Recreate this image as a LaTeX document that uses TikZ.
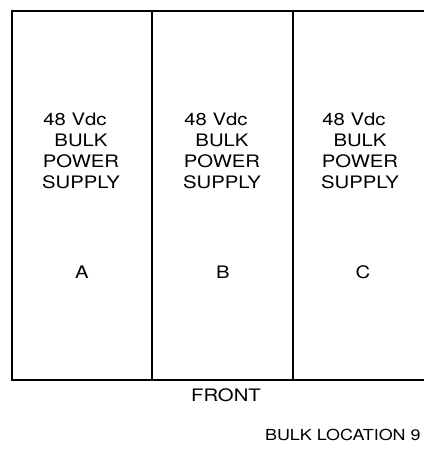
\documentclass[tikz,border=0pt]{standalone}
\usepackage{fontspec}
\setmainfont[FakeStretch=1.18]{TeX Gyre Heros}
\usepackage{tikz}
\usetikzlibrary{positioning}

\begin{document}
\begin{tikzpicture}[x=0.5pt,y=-0.5pt,frame/.style={line width=1.2pt},every node/.style={font=\fontsize{8.6}{10.5}\selectfont,inner sep=0pt},supply/.style={align=center}]
\useasboundingbox (0,0) rectangle (424,458);
\draw[frame] (424,11) -- (12,11) -- (12,380) -- (424,380);
\draw[frame] (152,11) -- (152,380);
\draw[frame] (293,11) -- (293,380);
\foreach \n/\x/\lx in {A/81/82,B/222/223,C/360/363}{
  \node[supply] (psu\n) at (\x,151) {48 Vdc\hspace*{6pt}\\BULK\\POWER\\SUPPLY};
  \node (lbl\n) at (\lx,272) {\n};
}
\node (front) at (226,395) {FRONT};
\node[anchor=east,font=\fontsize{7.6}{9}\selectfont] (loc) at (421,435) {BULK LOCATION 9};
\end{tikzpicture}
\end{document}
